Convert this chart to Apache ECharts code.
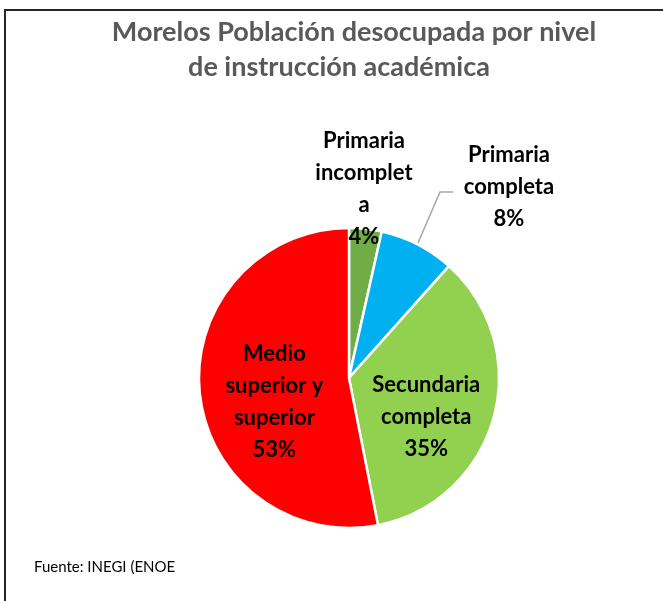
<!DOCTYPE html>
<html>
<head>
<meta charset="utf-8">
<script src="https://cdn.jsdelivr.net/npm/echarts@6/dist/echarts.min.js"></script>
<style>
html,body{margin:0;padding:0;background:#fff;}
#chart{width:663px;height:601px;}
</style>
</head>
<body>
<div id="chart"></div>
<script>
// Data
const categories = ['Primaria incompleta', 'Primaria completa', 'Secundaria completa', 'Medio superior y superior'];
const values = [3.5, 8.1, 35.3, 53.1];
const labelTexts = ['Primaria\nincomplet\na', 'Primaria\ncompleta', 'Secundaria\ncompleta', 'Medio\nsuperior y\nsuperior'];
const colors = ['#70AD47', '#00B0F0', '#92D050', '#FF0000'];
const titleLines = ['Morelos Población desocupada por nivel', 'de instrucción académica'];
const sourceText = 'Fuente: INEGI (ENOE';

const FONT = 'Lato';
const chart = echarts.init(document.getElementById('chart'), null, {renderer: 'canvas'});

const data = categories.map((c, i) => ({name: c, value: values[i], itemStyle: {color: colors[i]}}));

chart.setOption({
  animation: false,
  backgroundColor: '#fff',
  title: [
    {text: titleLines[0], left: 349, top: 14, textAlign: 'center',
     textStyle: {fontFamily: FONT, fontWeight: 'bold', fontSize: 27, color: '#595959'}},
    {text: titleLines[1], left: 334, top: 49, textAlign: 'center',
     textStyle: {fontFamily: FONT, fontWeight: 'bold', fontSize: 27, color: '#595959'}}
  ],
  graphic: [
    {type: 'rect', shape: {x: 5, y: 10, width: 720, height: 720}, style: {fill: 'none', stroke: '#262626', lineWidth: 2}, silent: true, z: -1},
    {type: 'text', left: 34, top: 560, style: {text: sourceText, fontFamily: FONT, fontSize: 15, fill: '#000'}},
    {type: 'polyline', shape: {points: [[418, 243], [440, 192], [453, 192]]}, style: {stroke: '#a6a6a6', lineWidth: 1.5, fill: 'none'}, silent: true}
  ],
  series: [{
    type: 'pie',
    center: [349, 378],
    radius: [0, 150],
    startAngle: 90,
    clockwise: true,
    percentPrecision: 0,
    data: data,
    itemStyle: {borderColor: '#fff', borderWidth: 2.5},
    label: {
      show: true,
      position: 'inside',
      fontFamily: FONT,
      fontWeight: 'bold',
      fontSize: 22,
      lineHeight: 32,
      color: '#000',
      align: 'center',
      formatter: p => labelTexts[p.dataIndex] + '\n' + p.percent + '%'
    },
    labelLine: {show: false},
    labelLayout: function (p) {
      const i = p.dataIndex;
      if (i === 0) return {x: 364, y: 189, align: 'center', verticalAlign: 'middle'};
      if (i === 1) return {x: 509, y: 187, align: 'center', verticalAlign: 'middle'};
      if (i === 2) return {dx: 2, dy: 18};
      return {dx: 3, dy: 16};
    },
    emphasis: {disabled: true}
  }]
});
</script>
</body>
</html>
